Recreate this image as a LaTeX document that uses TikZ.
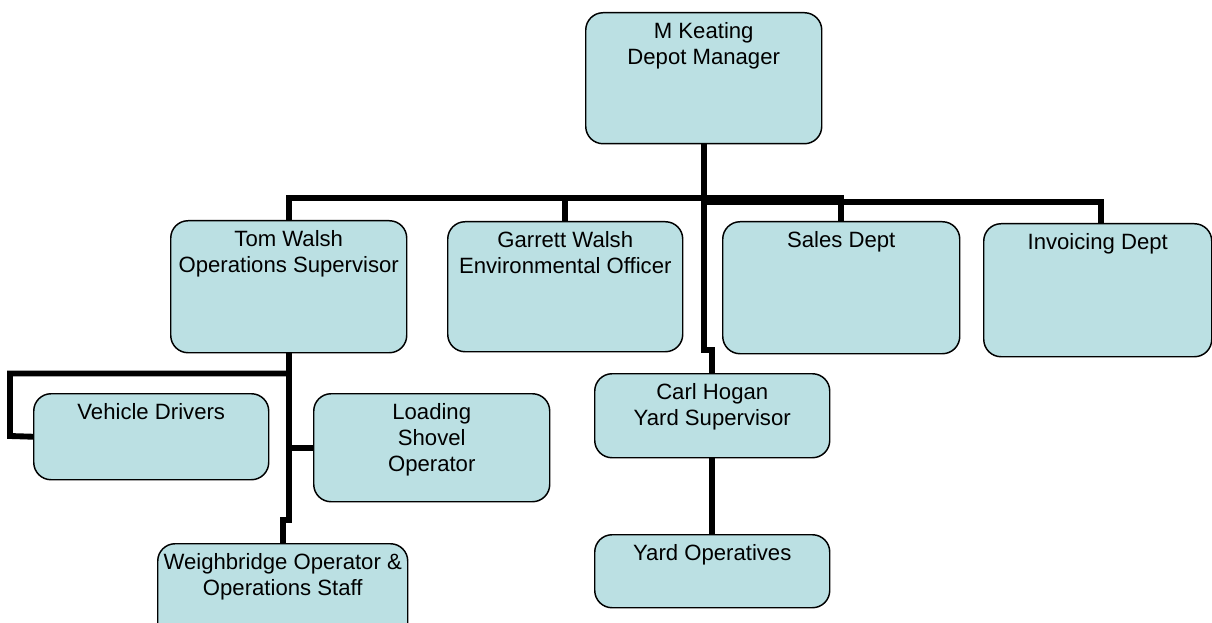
\documentclass[tikz,border=0pt]{standalone}
\usepackage{fontspec}
\setmainfont{Liberation Sans}
\newdimen\pxu
\pxu=0.75pt
\definecolor{boxfill}{RGB}{187,224,227}
\tikzset{
  orgbox/.style={draw=black, line width=1.1pt, fill=boxfill, rounded corners=13pt,
    inner sep=0pt, anchor=north west, font=\fontsize{16.6pt}{19.5pt}\selectfont},
  conn/.style={line width=4.4pt, draw=black}
}
\newcommand{\orgnode}[6]{%
  \node[orgbox] (#1) at (#2,#3) {\parbox[t][#5\pxu][t]{#4\pxu}{\centering\rule{0pt}{19.5pt}#6}};}
\begin{document}
\begin{tikzpicture}[x=0.75pt,y=-0.75pt]
\path[use as bounding box, clip] (0,0) rectangle (1212,623);
% helper coordinates for connector levels
\coordinate (busA) at (0,198);
\coordinate (busB) at (0,202);
\coordinate (jog1) at (0,350);
\coordinate (jog2) at (0,520);
\coordinate (vdy) at (0,373.5);
% boxes
\orgnode{mk}{585}{12}{236}{131}{M Keating\\Depot Manager}
\orgnode{tw}{170}{220}{236}{132}{Tom Walsh\\Operations Supervisor}
\orgnode{gw}{447}{221}{235}{130}{Garrett Walsh\\Environmental Officer}
\orgnode{sd}{722}{221}{237}{132}{Sales Dept}
\orgnode{id}{983}{223}{228}{133}{Invoicing Dept}
\orgnode{vd}{33}{393}{235}{86}{Vehicle Drivers}
\orgnode{ls}{313}{393}{236}{108}{Loading\\Shovel\\Operator}
\orgnode{wb}{157}{543}{250}{100}{Weighbridge Operator \&\\Operations Staff}
\orgnode{ch}{594}{373}{235}{84}{Carl Hogan\\Yard Supervisor}
\orgnode{yo}{594}{534}{235}{73}{Yard Operatives}
% top level
\draw[conn] (mk.south) -- (mk.south |- jog1) -- (ch.north |- jog1) -- (ch.north);
\draw[conn] (tw.north) -- (tw.north |- busA) -- (sd.north |- busA) -- (sd.north);
\draw[conn] (gw.north) -- (gw.north |- busA);
\draw[conn] (mk.south |- busB) -- (1101,202) -- (id.north -| 1101,0);
% Tom Walsh subtree
\draw[conn] (tw.south) -- (tw.south |- jog2) -- (wb.north |- jog2) -- (wb.north);
\draw[conn] (tw.south |- vdy) -- (10,373.5) -- (10,436) -- (vd.west);
\draw[conn] (tw.south |- ls.west) -- (ls.west);
% Carl Hogan subtree
\draw[conn] (ch.south) -- (yo.north);
\end{tikzpicture}
\end{document}
